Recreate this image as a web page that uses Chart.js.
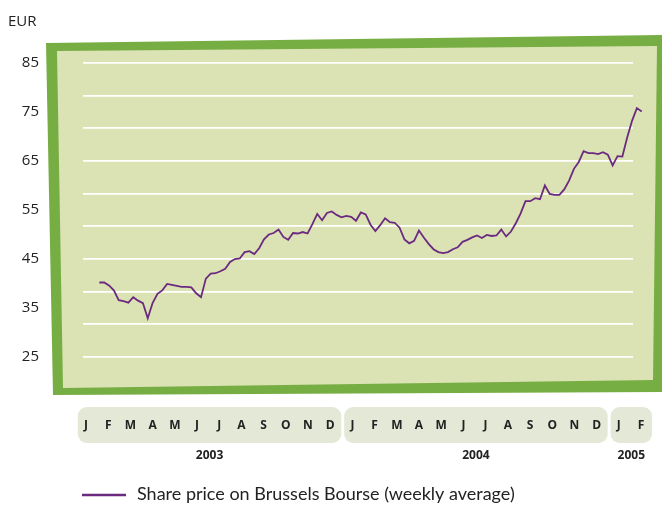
<!DOCTYPE html>
<html>
<head>
<meta charset="utf-8">
<script src="https://cdn.jsdelivr.net/npm/chart.js@4"></script>
<style>
  html, body { margin: 0; padding: 0; background: #fff; }
</style>
</head>
<body>
<canvas id="shareChart" width="662" height="505"></canvas>
<script>
// weekly average share price in EUR, Jan 2003 - Feb 2005
const sharePrice = [
  40.2, 40.2, 39.6, 38.6, 36.6, 36.4, 36.1, 37.2, 36.5, 36.0,
  32.9, 36.0, 37.9, 38.6, 39.9, 39.7, 39.5, 39.3, 39.3, 39.2,
  38.0, 37.2, 41.0, 42.0, 42.1, 42.5, 43.0, 44.4,
  45.0, 45.1, 46.4, 46.6, 46.0, 47.2, 49.0, 50.0, 50.3, 51.0,
  49.5, 48.9, 50.3, 50.2, 50.5, 50.2, 52.1, 54.2, 52.9, 54.4,
  54.7, 54.0, 53.5, 53.8, 53.6, 52.8, 54.5, 54.1, 52.0,
  50.7, 51.9, 53.3, 52.5, 52.4, 51.4, 49.0, 48.2, 48.7, 50.8,
  49.4, 48.1, 47.0, 46.4, 46.2, 46.4, 47.0, 47.4, 48.5, 48.9,
  49.4, 49.8, 49.3, 49.9, 49.7, 49.8, 51.0, 49.6, 50.6,
  52.3, 54.3, 56.8, 56.8, 57.4, 57.2, 60.0, 58.3, 58.1, 58.1,
  59.2, 61.0, 63.4, 64.8, 67.0, 66.6, 66.6, 66.4, 66.8, 66.3,
  64.1, 66.0, 65.9, 69.8, 73.2, 75.8, 75.1
];

const monthLetters = [
  'J', 'F', 'M', 'A', 'M', 'J', 'J', 'A', 'S', 'O', 'N', 'D',
  'J', 'F', 'M', 'A', 'M', 'J', 'J', 'A', 'S', 'O', 'N', 'D',
  'J', 'F'
];
const years = ['2003', '2004', '2005'];
const monthsPerYear = [12, 12, 2];

const yTickLabels = [25, 35, 45, 55, 65, 75, 85];
const gridValues = [25, 31.67, 38.33, 45, 51.67, 58.33, 65, 71.67, 78.33, 85];

const seriesLabel = 'Share price on Brussels Bourse (weekly average)';
const purple = '#6b2a80';
const txt = '#222222';

// frame, month boxes, year labels, unit and legend
const decor = {
    id: 'decor',
    beforeDraw(chart) {
        const ctx = chart.ctx;
        const ca = chart.chartArea;
        const xm = chart.scales.xm;

        // tilted green frame
        ctx.save();
        ctx.fillStyle = '#77ae43';
        ctx.beginPath();
        ctx.moveTo(ca.left - 37, ca.top - 20);
        ctx.lineTo(ca.right + 34, ca.top - 28);
        ctx.lineTo(ca.right + 34, ca.bottom + 35);
        ctx.lineTo(ca.left - 30, ca.bottom + 38);
        ctx.closePath();
        ctx.fill();

        ctx.fillStyle = '#dbe3b5';
        ctx.beginPath();
        ctx.moveTo(ca.left - 26, ca.top - 12);
        ctx.lineTo(ca.right + 24, ca.top - 17);
        ctx.lineTo(ca.right + 20, ca.bottom + 23);
        ctx.lineTo(ca.left - 20, ca.bottom + 31);
        ctx.closePath();
        ctx.fill();

        // rounded month boxes, one per year
        ctx.fillStyle = '#e3e9d6';
        let first = 0;
        monthsPerYear.forEach((n) => {
            const x0 = xm.getPixelForValue(first - 0.37);
            const x1 = xm.getPixelForValue(first + n - 1 + 0.5);
            ctx.beginPath();
            ctx.roundRect(x0, ca.bottom + 50, x1 - x0, 36, 9);
            ctx.fill();
            first += n;
        });
        ctx.restore();
    },
    afterDraw(chart) {
        const ctx = chart.ctx;
        const ca = chart.chartArea;
        const xm = chart.scales.xm;
        ctx.save();
        ctx.fillStyle = txt;
        ctx.textBaseline = 'middle';

        // year labels under the boxes
        ctx.font = 'bold 12px "Open Sans"';
        ctx.textAlign = 'center';
        let first = 0;
        monthsPerYear.forEach((n, i) => {
            const x0 = xm.getPixelForValue(first - 0.37);
            const x1 = xm.getPixelForValue(first + n - 1 + 0.5);
            ctx.fillText(years[i], (x0 + x1) / 2, ca.bottom + 99);
            first += n;
        });

        // unit
        ctx.font = '15px "Open Sans"';
        ctx.textAlign = 'left';
        ctx.fillText('EUR', 8, 22);

        // legend
        ctx.strokeStyle = purple;
        ctx.lineWidth = 2.5;
        ctx.beginPath();
        ctx.moveTo(82, 495);
        ctx.lineTo(126, 495);
        ctx.stroke();
        ctx.font = '18px Lato';
        ctx.fillText(seriesLabel, 137, 494);
        ctx.restore();
    }
};

const ctx = document.getElementById('shareChart').getContext('2d');
new Chart(ctx, {
    type: 'line',
    data: {
        datasets: [{
            label: seriesLabel,
            data: sharePrice.map((v, i) => ({ x: i, y: v })),
            borderColor: purple,
            borderWidth: 1.8,
            pointRadius: 0,
            tension: 0,
            clip: false,
            xAxisID: 'x',
            yAxisID: 'y'
        }]
    },
    options: {
        responsive: false,
        animation: false,
        devicePixelRatio: 1,
        layout: { padding: { left: 0, right: 29, top: 63, bottom: 0 } },
        plugins: {
            legend: { display: false },
            tooltip: { enabled: false }
        },
        scales: {
            x: {
                type: 'linear',
                display: false,
                bounds: 'data',
                // range set here (not via min/max) so the last weeks past the grid are still drawn
                afterDataLimits: (axis) => {
                    axis.min = -3.37;
                    axis.max = 110.2;
                }
            },
            xm: {
                type: 'linear',
                position: 'bottom',
                bounds: 'data',
                min: -0.135,
                max: 24.64,
                afterBuildTicks: (axis) => {
                    axis.ticks = monthLetters.map((m, i) => ({ value: i }));
                },
                afterFit: (axis) => {
                    axis.height = 148;
                    axis.paddingLeft = 0;
                    axis.paddingRight = 0;
                },
                ticks: {
                    autoSkip: false,
                    maxRotation: 0,
                    padding: 61,
                    color: txt,
                    font: { family: 'Open Sans', size: 12, weight: 'bold' },
                    callback: (value, index) => monthLetters[index]
                },
                grid: { display: false, drawTicks: false },
                border: { display: false }
            },
            y: {
                type: 'linear',
                position: 'left',
                min: 25,
                max: 85,
                afterBuildTicks: (axis) => {
                    axis.ticks = yTickLabels.map(v => ({ value: v }));
                },
                afterFit: (axis) => { axis.width = 83; },
                ticks: {
                    padding: 44,
                    color: txt,
                    font: { family: 'Open Sans', size: 15 }
                },
                grid: { display: false, drawTicks: false },
                border: { display: false }
            },
            gy: {
                type: 'linear',
                position: 'left',
                min: 25,
                max: 85,
                afterBuildTicks: (axis) => {
                    axis.ticks = gridValues.map(v => ({ value: v }));
                },
                afterFit: (axis) => { axis.width = 0; },
                ticks: { display: false },
                grid: { color: '#ffffff', lineWidth: 1.8, drawTicks: false },
                border: { display: false }
            }
        }
    },
    plugins: [decor]
});
</script>
</body>
</html>
